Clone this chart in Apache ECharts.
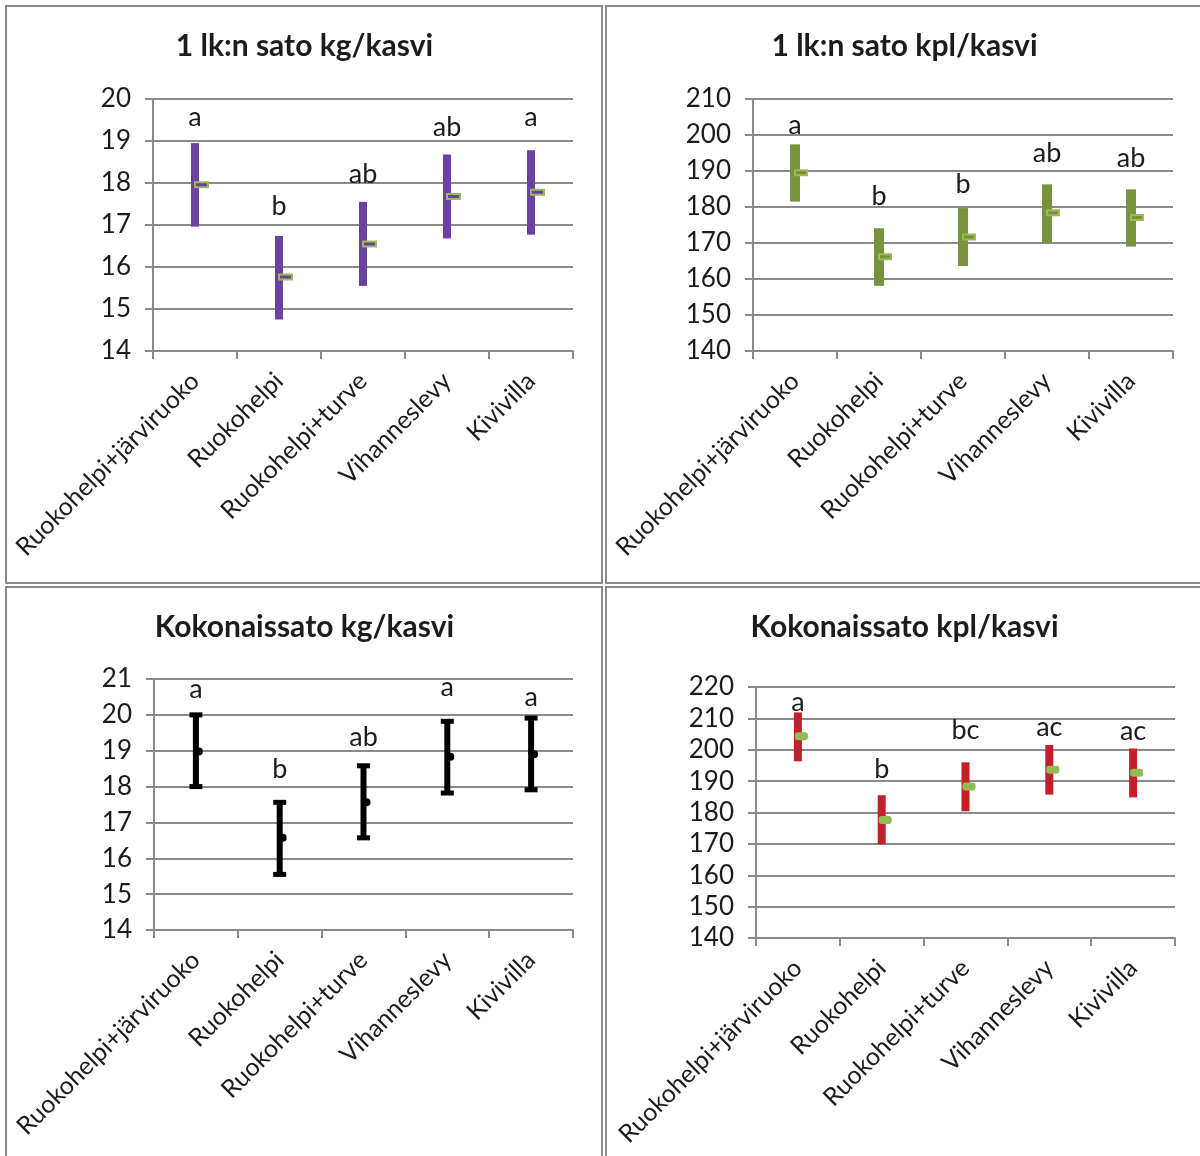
<!DOCTYPE html>
<html><head><meta charset="utf-8">
<script src="https://cdn.jsdelivr.net/npm/echarts@6/dist/echarts.min.js"></script>
<style>html,body{margin:0;padding:0;background:#fff}#c{width:1200px;height:1156px}</style>
</head><body><div id="c"></div>
<script>
// ---------- DATA ----------
const categories = ['Ruokohelpi+järviruoko', 'Ruokohelpi', 'Ruokohelpi+turve', 'Vihanneslevy', 'Kivivilla'];
const panelTitles = ['1 lk:n sato kg/kasvi', '1 lk:n sato kpl/kasvi', 'Kokonaissato kg/kasvi', 'Kokonaissato kpl/kasvi'];

// 1 lk:n sato kg/kasvi
const kg1High = [18.95, 16.74, 17.55, 18.68, 18.78];
const kg1Low  = [16.96, 14.75, 15.55, 16.68, 16.77];
const kg1Mean = [17.96, 15.76, 16.55, 17.68, 17.78];
const kg1Letters = ['a', 'b', 'ab', 'ab', 'a'];
const kg1LetterAt = [19.38, 17.27, 18.03, 19.14, 19.38];

// 1 lk:n sato kpl/kasvi
const kpl1High = [197.4, 174.1, 179.7, 186.3, 184.9];
const kpl1Low  = [181.5, 158.1, 163.6, 170.1, 169.0];
const kpl1Mean = [189.5, 166.2, 171.7, 178.4, 177.1];
const kpl1Letters = ['a', 'b', 'b', 'ab', 'ab'];
const kpl1LetterAt = [200.7, 181.0, 184.1, 192.7, 191.5];

// Kokonaissato kg/kasvi
const kgTotHigh = [20.0, 17.56, 18.58, 19.82, 19.91];
const kgTotLow  = [18.0, 15.55, 16.57, 17.82, 17.91];
const kgTotMean = [18.98, 16.57, 17.56, 18.83, 18.90];
const kgTotLetters = ['a', 'b', 'ab', 'a', 'a'];
const kgTotLetterAt = [20.51, 18.26, 19.17, 20.55, 20.29];

// Kokonaissato kpl/kasvi
const kplTotHigh = [211.9, 185.5, 196.0, 201.5, 200.4];
const kplTotLow  = [196.3, 169.9, 180.4, 185.7, 184.8];
const kplTotMean = [204.3, 177.6, 188.3, 193.6, 192.7];
const kplTotLetters = ['a', 'b', 'bc', 'ac', 'ac'];
const kplTotLetterAt = [212.7, 191.3, 203.7, 204.8, 203.4];

// Axis ranges
const yRanges = [
  {min: 14, max: 20, interval: 1},
  {min: 140, max: 210, interval: 10},
  {min: 14, max: 21, interval: 1},
  {min: 140, max: 220, interval: 10}
];

// ---------- STYLE / LAYOUT ----------
const FONT = 'Lato';
const GRAY = '#8a8a8a';
const TXT = '#1c1c1c';
const grids = [
  {left: 153, top: 99, width: 420, height: 252},
  {left: 753, top: 99, width: 420, height: 252},
  {left: 154, top: 679, width: 419, height: 251},
  {left: 756, top: 687, width: 419, height: 251}
];
const titlePos = [[304.5, 31], [904.5, 31], [304.5, 612], [904.5, 612]];
const frames = [[6, 6, 596, 577], [606, 6, 598, 577], [6, 587, 596, 575], [606, 587, 598, 575]];

function rows(h, l, m) { return categories.map((c, i) => [i, h[i], l[i], m[i]]); }
function letterRows(at, letters) { return categories.map((c, i) => [i, at[i], letters[i]]); }

function rangeRender(o) {
  return function (params, api) {
    const x = api.value(0);
    const pH = api.coord([x, api.value(1)]);
    const pL = api.coord([x, api.value(2)]);
    const pM = api.coord([x, api.value(3)]);
    const ch = [
      {type: 'rect', shape: {x: pH[0] - o.barW / 2, y: pH[1], width: o.barW, height: pL[1] - pH[1]}, style: {fill: o.color}},
      {type: 'rect', shape: {x: pM[0] + o.mDx, y: pM[1] - o.mH / 2, width: o.mW, height: o.mH, r: o.r || 0},
        style: {fill: o.mFill, stroke: o.mStroke, lineWidth: o.mLw || 0}}
    ];
    return {type: 'group', children: ch};
  };
}
function errorRender(params, api) {
  const x = api.value(0);
  const pH = api.coord([x, api.value(1)]);
  const pL = api.coord([x, api.value(2)]);
  const pM = api.coord([x, api.value(3)]);
  const capW = 13, capH = 5, w = 6;
  return {type: 'group', children: [
    {type: 'rect', shape: {x: pH[0] - w / 2, y: pH[1], width: w, height: pL[1] - pH[1]}, style: {fill: '#000'}},
    {type: 'rect', shape: {x: pH[0] - capW / 2, y: pH[1] - capH / 2, width: capW, height: capH}, style: {fill: '#000'}},
    {type: 'rect', shape: {x: pL[0] - capW / 2, y: pL[1] - capH / 2, width: capW, height: capH}, style: {fill: '#000'}},
    {type: 'circle', shape: {cx: pM[0] + 3, cy: pM[1], r: 4}, style: {fill: '#000'}}
  ]};
}
function letterRender(params, api) {
  const p = api.coord([api.value(0), api.value(1)]);
  return {type: 'text', x: p[0], y: p[1] + 6,
    style: {text: api.value(2), font: '27px ' + FONT, fill: TXT, align: 'center', verticalAlign: 'bottom'}};
}

const xAxes = [], yAxes = [], series = [];
for (let g = 0; g < 4; g++) {
  xAxes.push({type: 'category', gridIndex: g, data: categories, boundaryGap: true,
    axisLine: {show: true, lineStyle: {color: GRAY, width: 2}},
    axisTick: {show: true, length: 8, lineStyle: {color: GRAY, width: 2}},
    axisLabel: {interval: 0, rotate: 45, fontSize: 25, fontFamily: FONT, color: TXT, margin: 26},
    splitLine: {show: false}});
  yAxes.push({type: 'value', gridIndex: g, min: yRanges[g].min, max: yRanges[g].max, interval: yRanges[g].interval,
    axisLine: {show: true, lineStyle: {color: GRAY, width: 2}},
    axisTick: {show: true, length: 8, lineStyle: {color: GRAY, width: 2}},
    axisLabel: {fontSize: 26, fontFamily: FONT, color: TXT, margin: 22},
    splitLine: {show: true, lineStyle: {color: GRAY, width: 2}}});
}
series.push({type: 'custom', xAxisIndex: 0, yAxisIndex: 0, data: rows(kg1High, kg1Low, kg1Mean),
  renderItem: rangeRender({barW: 8, color: '#6b41a1', mDx: 0, mW: 13, mH: 5, mFill: '#6b41a1', mStroke: '#9bbb59', mLw: 2})});
series.push({type: 'custom', xAxisIndex: 1, yAxisIndex: 1, data: rows(kpl1High, kpl1Low, kpl1Mean),
  renderItem: rangeRender({barW: 10, color: '#77933c', mDx: 0, mW: 12, mH: 5, mFill: '#77933c', mStroke: '#9bbb59', mLw: 2})});
series.push({type: 'custom', xAxisIndex: 2, yAxisIndex: 2, data: rows(kgTotHigh, kgTotLow, kgTotMean), renderItem: errorRender});
series.push({type: 'custom', xAxisIndex: 3, yAxisIndex: 3, data: rows(kplTotHigh, kplTotLow, kplTotMean),
  renderItem: rangeRender({barW: 8, color: '#c4202b', mDx: -3, mW: 13, mH: 8, r: 3, mFill: '#8fbc55', mStroke: null, mLw: 0})});
const letterSets = [[kg1LetterAt, kg1Letters], [kpl1LetterAt, kpl1Letters], [kgTotLetterAt, kgTotLetters], [kplTotLetterAt, kplTotLetters]];
letterSets.forEach((s, g) => series.push({type: 'custom', xAxisIndex: g, yAxisIndex: g, data: letterRows(s[0], s[1]), renderItem: letterRender, z: 5}));

const option = {
  animation: false,
  backgroundColor: '#fff',
  title: panelTitles.map((t, i) => ({text: t, left: titlePos[i][0], top: titlePos[i][1], textAlign: 'center', padding: 0,
    textStyle: {fontFamily: FONT, fontWeight: 'bold', fontSize: 30, color: TXT}})),
  grid: grids,
  xAxis: xAxes,
  yAxis: yAxes,
  graphic: frames.map(f => ({type: 'rect', shape: {x: f[0], y: f[1], width: f[2], height: f[3]},
    style: {fill: null, stroke: GRAY, lineWidth: 2}, silent: true})),
  series: series
};
const chart = echarts.init(document.getElementById('c'), null, {renderer: 'canvas'});
chart.setOption(option);
</script>
</body></html>
